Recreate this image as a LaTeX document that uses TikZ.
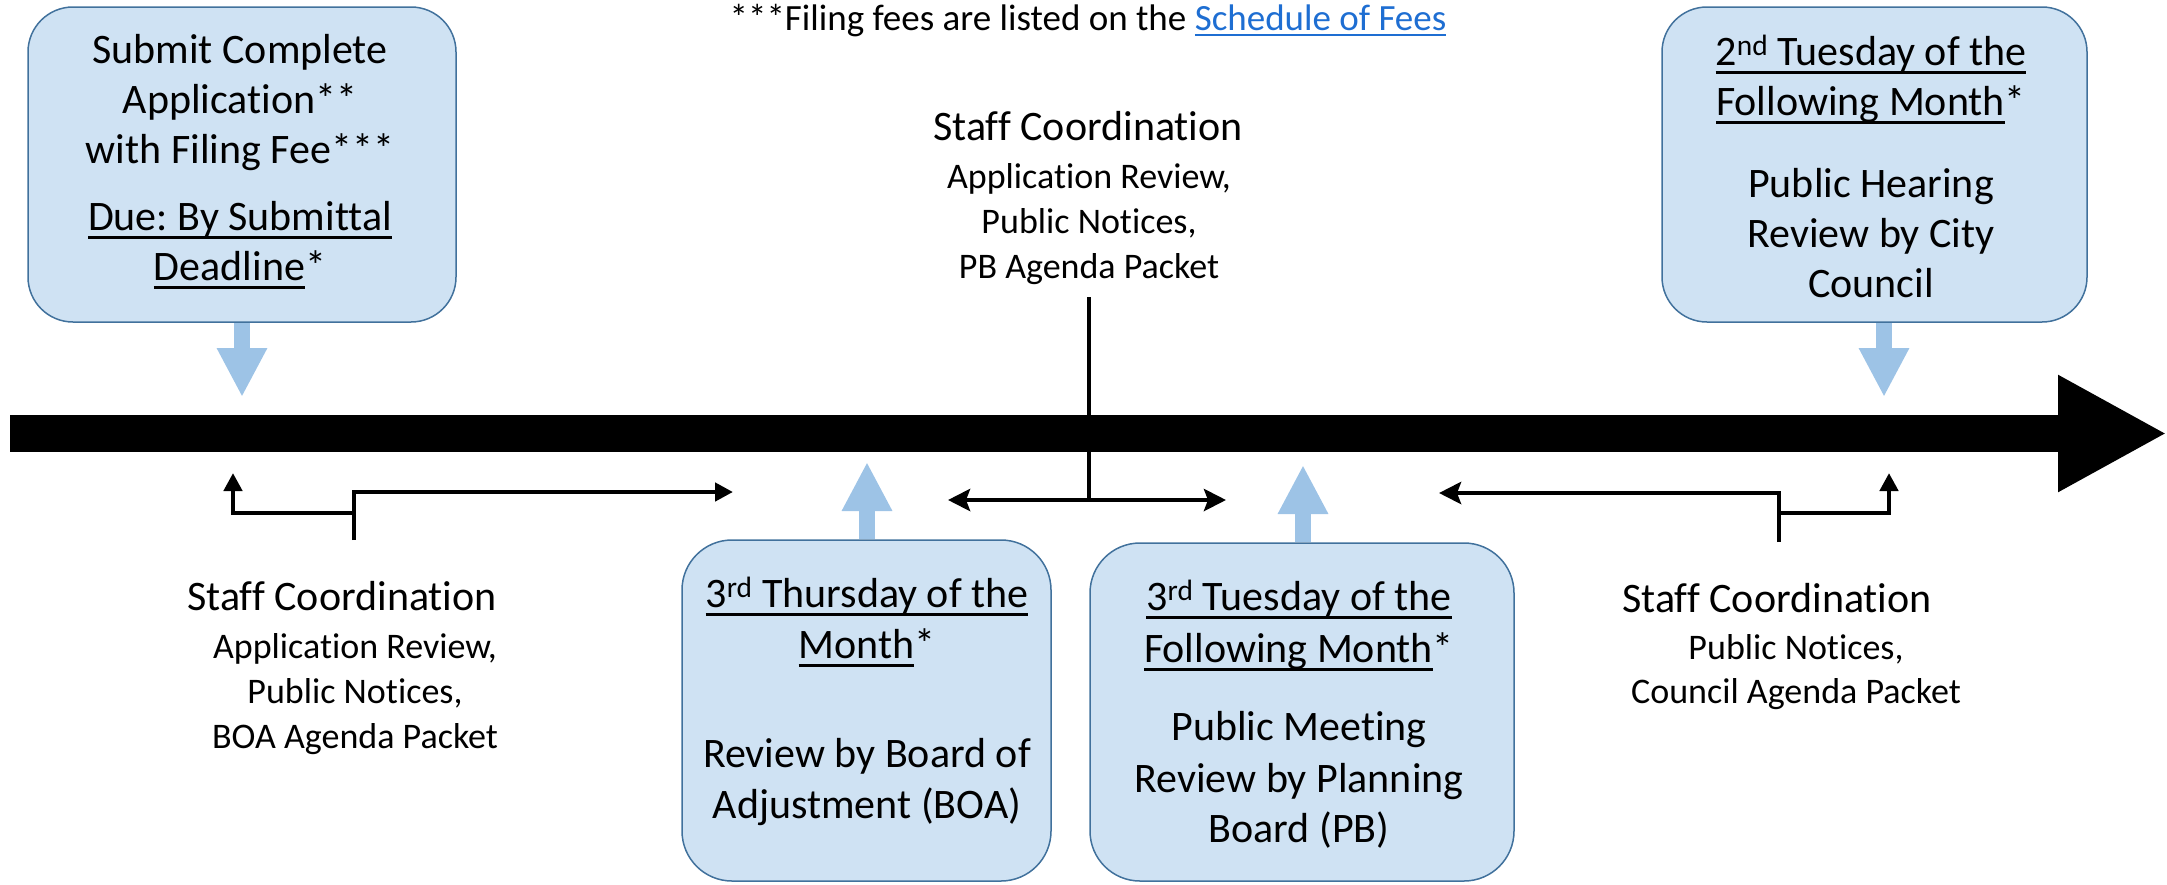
\documentclass[tikz,border=0pt]{standalone}
\usepackage{fontspec}
\setmainfont{Carlito}[Ligatures=NoCommon]
\usetikzlibrary{arrows.meta,calc}
\definecolor{boxfill}{RGB}{207,226,243}
\definecolor{boxline}{RGB}{65,113,156}
\definecolor{blockblue}{RGB}{157,195,230}
\definecolor{linkblue}{RGB}{30,110,210}
\newcommand\myul[1]{\setbox0\hbox{#1}\rlap{\rule[-9pt]{\wd0}{3pt}}\box0}
\newcommand\linkul[1]{\setbox0\hbox{#1}\rlap{\rule[-6pt]{\wd0}{2pt}}\box0}
\frenchspacing
\begin{document}
\begin{tikzpicture}[x=1pt,y=-1pt,
  bx/.style={draw=boxline,line width=1.5pt,fill=boxfill,rounded corners=45pt,inner sep=0pt},
  bt/.style={inner sep=0pt,anchor=base,font=\fontsize{42}{50}\selectfont},
  st/.style={inner sep=0pt,anchor=base,font=\fontsize{36}{44}\selectfont},
  ft/.style={inner sep=0pt,anchor=base,font=\fontsize{37}{44}\selectfont},
  blk/.style={draw=blockblue,line width=16pt,-{Triangle[length=49pt,width=47pt]}},
  brk/.style={line width=4.5pt},
  tipb/.style={-{Triangle[length=18pt,width=18pt]}},
  tips/.style={{Stealth[length=22pt,width=22pt,inset=4pt]}-{Stealth[length=22pt,width=22pt,inset=4pt]}},
  tipl/.style={-{Stealth[length=22pt,width=22pt,inset=4pt]}},
]
\useasboundingbox (0,0) rectangle (2167,884);

% boxes
\node[bx,minimum width=428pt,minimum height=315pt] (box1) at (242,164.5) {};
\node[bx,minimum width=425pt,minimum height=315pt] (box4) at (1874.5,164.5) {};
\node[bx,rounded corners=50pt,minimum width=369pt,minimum height=341pt] (box2) at (866.5,710.5) {};
\node[bx,rounded corners=50pt,minimum width=424pt,minimum height=338pt] (box3) at (1302,712) {};

% block arrows
\coordinate (a1) at (242,397);
\coordinate (a4) at (1884,397);
\coordinate (a2) at (867,462);
\coordinate (a3) at (1303,465);
\draw[blk] (box1.south) -- (a1);
\draw[blk] (box4.south -| a4) -- (a4);
\draw[blk] (box2.north -| a2) -- (a2);
\draw[blk] (box3.north -| a3) -- (a3);

% timeline bar
\coordinate (tl0) at (10,433.5);
\coordinate (tl1) at (2167,433.5);
\draw[line width=37pt,-{Triangle[length=109pt,width=109pt]}] (tl0) -- (tl1);

% left bracket
\coordinate (lstem) at (354,540);
\coordinate (lup) at (233,473);
\coordinate (lright) at (733,492);
\draw[brk,tipb] (lstem) -- (354,492) -- (lright);
\draw[brk,tipb] (354,513) -- (233,513) -- (lup);

% middle
\coordinate (mtop) at (1089,297);
\coordinate (mleft) at (948,500);
\coordinate (mright) at (1226,500);
\draw[brk] (mtop) -- (1089,500);
\draw[brk,tips] (mleft) -- (mright);

% right bracket
\coordinate (rstem) at (1779,542);
\coordinate (rleft) at (1439,493);
\coordinate (rup) at (1889,473);
\draw[brk,tipl] (rstem) -- (1779,493) -- (rleft);
\draw[brk,tipb] (1779,513) -- (1889,513) -- (rup);

% footnote
\node[ft] (fee) at (1088,30) {***Filing fees are listed on the {\color{linkblue}\linkul{Schedule of Fees}}};

% box 1
\node[bt] (b1a) at (240,63) {Submit Complete};
\node[bt] (b1b) at (240,113) {Application**};
\node[bt] (b1c) at (240,163) {with Filing Fee***};
\node[bt] (b1d) at (240,230) {\myul{Due: By Submittal}};
\node[bt] (b1e) at (240,280) {\myul{Deadline}*};

% middle top text
\node[bt] (m1) at (1088,140) {Staff Coordination};
\node[st] (m2) at (1089,188) {Application Review,};
\node[st] (m3) at (1089,233) {Public Notices,};
\node[st] (m4) at (1089,278) {PB Agenda Packet};

% box 4
\node[bt] (r1) at (1871,65) {\myul{2\textsuperscript{nd} Tuesday of the}};
\node[bt] (r2) at (1871,115) {\myul{Following Month}*};
\node[bt] (r3) at (1871,197) {Public Hearing};
\node[bt] (r4) at (1871,247) {Review by City};
\node[bt] (r5) at (1871,297) {Council};

% left bottom text
\node[bt] (l1) at (342,610) {Staff Coordination};
\node[st] (l2) at (355,658) {Application Review,};
\node[st] (l3) at (355,703) {Public Notices,};
\node[st] (l4) at (355,748) {BOA Agenda Packet};

% box 2
\node[bt] (b2a) at (867,607) {\myul{3\textsuperscript{rd} Thursday of the}};
\node[bt] (b2b) at (867,658) {\myul{Month}*};
\node[bt] (b2c) at (867,767) {Review by Board of};
\node[bt] (b2d) at (867,818) {Adjustment (BOA)};

% box 3
\node[bt] (b3a) at (1299,610) {\myul{3\textsuperscript{rd} Tuesday of the}};
\node[bt] (b3b) at (1299,662) {\myul{Following Month}*};
\node[bt] (b3c) at (1299,740) {Public Meeting};
\node[bt] (b3d) at (1299,792) {Review by Planning};
\node[bt] (b3e) at (1299,842) {Board (PB)};

% right bottom text
\node[bt] (q1) at (1777,612) {Staff Coordination};
\node[st] (q2) at (1796,659) {Public Notices,};
\node[st] (q3) at (1796,703) {Council Agenda Packet};
\end{tikzpicture}
\end{document}
